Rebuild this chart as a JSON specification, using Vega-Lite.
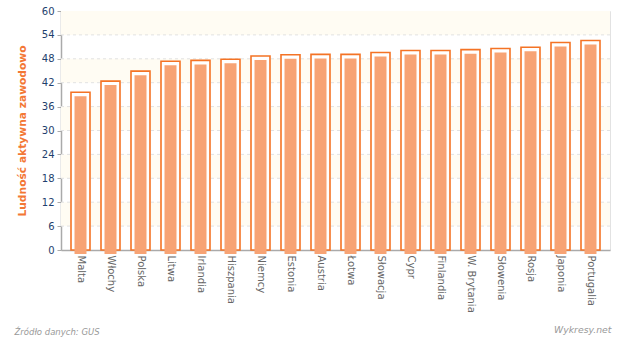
{
  "$schema": "https://vega.github.io/schema/vega-lite/v6.json",
  "width": 549,
  "height": 239,
  "autosize": "none",
  "padding": {"left": 61, "top": 11, "right": 10, "bottom": 87},
  "background": "white",
  "config": {
    "view": {"stroke": "#e2e2e2", "strokeWidth": 1},
    "font": "DejaVu Sans",
    "axisY": {
      "title": "Ludność aktywna zawodowo",
      "titleColor": "#f37735",
      "titleFontSize": 10.7,
      "titleFontWeight": "bold",
      "titlePadding": 14,
      "labelOverlap": false,
      "labelColor": "#1f3f6e",
      "labelFontSize": 10,
      "labelPadding": 3,
      "tickColor": "#aaaaaa",
      "tickSize": 4,
      "domainColor": "#aaaaaa",
      "domainWidth": 1.5,
      "grid": false
    }
  },
  "title": {
    "text": "Wykresy.net",
    "orient": "bottom",
    "anchor": "end",
    "fontStyle": "italic",
    "fontWeight": "normal",
    "fontSize": 9.3,
    "color": "#999999",
    "font": "DejaVu Sans",
    "offset": -10,
    "dx": 1
  },
  "datasets": {
    "bars": [
      {"kraj": "Malta", "wartosc": 39.6},
      {"kraj": "Włochy", "wartosc": 42.4},
      {"kraj": "Polska", "wartosc": 44.9},
      {"kraj": "Litwa", "wartosc": 47.4},
      {"kraj": "Irlandia", "wartosc": 47.6},
      {"kraj": "Hiszpania", "wartosc": 47.9},
      {"kraj": "Niemcy", "wartosc": 48.7},
      {"kraj": "Estonia", "wartosc": 49.0},
      {"kraj": "Austria", "wartosc": 49.1},
      {"kraj": "Łotwa", "wartosc": 49.1},
      {"kraj": "Słowacja", "wartosc": 49.6},
      {"kraj": "Cypr", "wartosc": 50.1},
      {"kraj": "Finlandia", "wartosc": 50.1},
      {"kraj": "W. Brytania", "wartosc": 50.3},
      {"kraj": "Słowenia", "wartosc": 50.6},
      {"kraj": "Rosja", "wartosc": 50.9},
      {"kraj": "Japonia", "wartosc": 52.1},
      {"kraj": "Portugalia", "wartosc": 52.6}
    ],
    "pasy": [
      {"od": 54, "do": 60},
      {"od": 42, "do": 48},
      {"od": 30, "do": 36},
      {"od": 18, "do": 24},
      {"od": 6, "do": 12}
    ],
    "siatka": [
      {"v": 6}, {"v": 12}, {"v": 18}, {"v": 24}, {"v": 30},
      {"v": 36}, {"v": 42}, {"v": 48}, {"v": 54}
    ]
  },
  "layer": [
    {
      "data": {"name": "pasy"},
      "mark": {"type": "rect", "fill": "#fffcf3"},
      "encoding": {
        "y": {
          "field": "od",
          "type": "quantitative",
          "scale": {"domain": [0, 60]},
          "axis": {"values": [0, 6, 12, 18, 24, 30, 36, 42, 48, 54, 60], "title": "Ludność aktywna zawodowo"}
        },
        "y2": {"field": "do"}
      }
    },
    {
      "data": {"name": "siatka"},
      "mark": {"type": "rule", "stroke": "#e2e2e2", "strokeDash": [3, 3], "strokeWidth": 1},
      "encoding": {
        "y": {
          "field": "v",
          "type": "quantitative",
          "axis": {"values": [0, 6, 12, 18, 24, 30, 36, 42, 48, 54, 60], "title": "Ludność aktywna zawodowo"}
        }
      }
    },
    {
      "data": {"name": "bars"},
      "mark": {"type": "bar", "fill": "white", "stroke": "#f47325", "strokeWidth": 1.6, "width": 19},
      "encoding": {
        "x": {
          "field": "kraj",
          "type": "nominal",
          "sort": null,
          "scale": {"paddingInner": 0, "paddingOuter": 0.15},
          "axis": {
            "title": "Źródło danych: GUS",
            "titleAnchor": "start",
            "titleAlign": "left",
            "titleBaseline": "alphabetic",
            "titleX": -47,
            "titleY": 84,
            "titleFont": "DejaVu Sans",
            "titleFontSize": 8.5,
            "titleFontStyle": "italic",
            "titleFontWeight": "normal",
            "titleColor": "#999999",
            "labelAngle": 90,
            "labelAlign": "left",
            "labelBaseline": "middle",
            "labelFontSize": 10,
            "labelColor": "#666666",
            "labelPadding": 5,
            "labelOverlap": false,
            "ticks": false,
            "domainColor": "#aaaaaa",
            "domainWidth": 1.5,
            "grid": false
          }
        },
        "y": {
          "field": "wartosc",
          "type": "quantitative",
          "axis": {"values": [0, 6, 12, 18, 24, 30, 36, 42, 48, 54, 60], "title": "Ludność aktywna zawodowo"}
        }
      }
    },
    {
      "data": {"name": "bars"},
      "mark": {"type": "bar", "fill": "#f7a374", "width": 12, "yOffset": 4, "y2Offset": -2},
      "encoding": {
        "x": {"field": "kraj", "type": "nominal", "sort": null},
        "y": {
          "field": "wartosc",
          "type": "quantitative",
          "axis": {"values": [0, 6, 12, 18, 24, 30, 36, 42, 48, 54, 60], "title": "Ludność aktywna zawodowo"}
        }
      }
    }
  ]
}
